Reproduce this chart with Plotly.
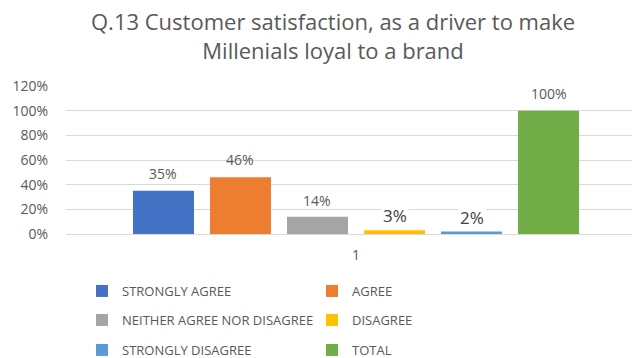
import plotly.graph_objects as go

# Survey answers and their shares
categories = ["1"]
series_names = ["STRONGLY AGREE", "AGREE", "NEITHER AGREE NOR DISAGREE",
                "DISAGREE", "STRONGLY DISAGREE", "TOTAL"]
series_values = [0.35, 0.46, 0.14, 0.03, 0.02, 1.00]
series_colors = ["#4472C4", "#ED7D31", "#A5A5A5", "#FFC000", "#5B9BD5", "#70AD47"]
y_tick_values = [0, 0.2, 0.4, 0.6, 0.8, 1.0, 1.2]
y_tick_labels = ["0%", "20%", "40%", "60%", "80%", "100%", "120%"]

# label styling: lift above the bar (px) and emphasis for the two small shares
label_lift = [6, 6, 5, 1, 1, 6]
label_big = [False, False, False, True, True, False]

W, H = 632, 358
ML, MR, MT, MB = 66, 0, 86, 124
plot_w = W - ML - MR
plot_h = H - MT - MB
cat_px = 580.0                      # pixel width of one category slot
x_range = [-0.5, -0.5 + plot_w / cat_px]
BARGAP = 0.2034
GROUPGAP = 0.208
slot_px = (1 - BARGAP) * cat_px / len(series_names)

FONT = "Open Sans"
GREY = "#595959"

fig = go.Figure()
legend_ids = ["legend", "legend", "legend2", "legend2", "legend3", "legend3"]
for name, val, col, lg in zip(series_names, series_values, series_colors, legend_ids):
    fig.add_trace(go.Bar(
        x=categories, y=[val], name=name, marker_color=col,
        marker_line_width=0, legend=lg, hoverinfo="skip",
    ))

# value labels above each bar (x is the category index of the single group)
n = len(series_names)
for i, (val, lift, big) in enumerate(zip(series_values, label_lift, label_big)):
    fig.add_annotation(
        x=0, y=val, xref="x", yref="y",
        xshift=(i - (n - 1) / 2) * slot_px,
        yshift=lift,
        yanchor="bottom", showarrow=False,
        text=f"{round(val * 100)}%",
        font=dict(family=FONT, size=17 if big else 14, color="#404040" if big else GREY),
        bgcolor="white" if big else "rgba(0,0,0,0)",
        borderpad=1,
    )

def legend_row(py):
    return dict(
        orientation="h", xref="container", yref="container",
        x=82 / W, xanchor="left", y=1 - py / H, yanchor="middle",
        entrywidth=185, entrywidthmode="pixels",
        font=dict(family=FONT, size=13, color=GREY),
        bgcolor="rgba(0,0,0,0)", itemclick=False, itemdoubleclick=False,
    )

fig.update_layout(
    width=W, height=H,
    margin=dict(l=ML, r=MR, t=MT, b=MB, pad=0, autoexpand=False),
    paper_bgcolor="white", plot_bgcolor="white",
    barmode="group", bargap=BARGAP, bargroupgap=GROUPGAP,
    title=dict(
        text="Q.13 Customer satisfaction, as a driver to make<br>Millenials loyal to a brand",
        x=0.527, xanchor="center", yref="container", y=0.915, yanchor="top",
        font=dict(family=FONT, size=22, color=GREY), automargin=False,
    ),
    xaxis=dict(
        type="category", range=x_range, showgrid=False, zeroline=False,
        showline=False, ticks="outside", ticklen=8, tickcolor="rgba(0,0,0,0)",
        tickfont=dict(family=FONT, size=14, color=GREY), fixedrange=True,
        automargin=False,
    ),
    yaxis=dict(
        range=[0, 1.2], tickvals=y_tick_values, ticktext=y_tick_labels,
        showgrid=True, gridcolor="#D9D9D9", gridwidth=1, zeroline=True,
        zerolinecolor="#D9D9D9", zerolinewidth=1, showline=False,
        ticks="outside", ticklen=14, tickcolor="rgba(0,0,0,0)",
        tickfont=dict(family=FONT, size=14, color=GREY), fixedrange=True,
        automargin=False,
    ),
    legend=legend_row(291),
    legend2=legend_row(320),
    legend3=legend_row(350),
    showlegend=True,
)

fig.write_html("out.html", config={"displayModeBar": False})
